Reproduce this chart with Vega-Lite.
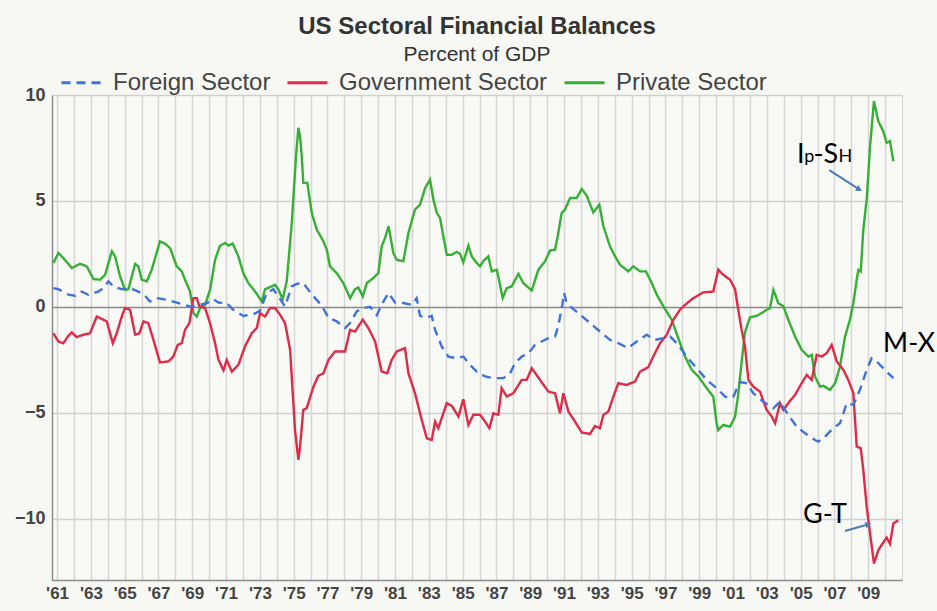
{
"$schema": "https://vega.github.io/schema/vega-lite/v6.json",
"width": 850,
"height": 485,
"autosize": {"type": "none"},
"padding": {"left": 52, "top": 95, "right": 35, "bottom": 31},
"background": "#f7f7f3",
"config": {"view": {"stroke": "#d4d4d4", "fill": "#f9f9f6"}},
"title": {"text": "US Sectoral Financial Balances", "subtitle": "Percent of GDP", "anchor": "middle", "font": "Liberation Sans", "fontSize": 24, "fontWeight": "bold", "color": "#333333", "subtitleFont": "Liberation Sans", "subtitleFontSize": 21, "subtitleColor": "#333333", "subtitlePadding": 5, "offset": -4},
"datasets": {
"series": [
{"sector":"Private Sector","year":1960.78,"pct":2.07},{"sector":"Private Sector","year":1961.08,"pct":2.54},{"sector":"Private Sector","year":1961.37,"pct":2.30},{"sector":"Private Sector","year":1961.87,"pct":1.83},{"sector":"Private Sector","year":1962.36,"pct":2.03},{"sector":"Private Sector","year":1962.76,"pct":1.91},{"sector":"Private Sector","year":1963.15,"pct":1.31},{"sector":"Private Sector","year":1963.54,"pct":1.28},{"sector":"Private Sector","year":1963.84,"pct":1.51},{"sector":"Private Sector","year":1964.24,"pct":2.62},{"sector":"Private Sector","year":1964.43,"pct":2.38},{"sector":"Private Sector","year":1964.73,"pct":1.43},{"sector":"Private Sector","year":1965.02,"pct":0.80},{"sector":"Private Sector","year":1965.22,"pct":0.83},{"sector":"Private Sector","year":1965.62,"pct":2.03},{"sector":"Private Sector","year":1965.81,"pct":1.91},{"sector":"Private Sector","year":1966.01,"pct":1.28},{"sector":"Private Sector","year":1966.31,"pct":1.20},{"sector":"Private Sector","year":1966.60,"pct":1.75},{"sector":"Private Sector","year":1967.09,"pct":3.09},{"sector":"Private Sector","year":1967.39,"pct":2.98},{"sector":"Private Sector","year":1967.69,"pct":2.77},{"sector":"Private Sector","year":1968.08,"pct":1.91},{"sector":"Private Sector","year":1968.38,"pct":1.67},{"sector":"Private Sector","year":1968.57,"pct":1.28},{"sector":"Private Sector","year":1968.87,"pct":0.72},{"sector":"Private Sector","year":1969.07,"pct":-0.30},{"sector":"Private Sector","year":1969.27,"pct":-0.46},{"sector":"Private Sector","year":1969.46,"pct":-0.06},{"sector":"Private Sector","year":1969.76,"pct":0.09},{"sector":"Private Sector","year":1970.05,"pct":0.80},{"sector":"Private Sector","year":1970.35,"pct":2.22},{"sector":"Private Sector","year":1970.64,"pct":2.88},{"sector":"Private Sector","year":1970.94,"pct":3.01},{"sector":"Private Sector","year":1971.14,"pct":2.89},{"sector":"Private Sector","year":1971.39,"pct":2.99},{"sector":"Private Sector","year":1971.73,"pct":2.38},{"sector":"Private Sector","year":1972.02,"pct":1.59},{"sector":"Private Sector","year":1972.32,"pct":1.12},{"sector":"Private Sector","year":1972.72,"pct":0.72},{"sector":"Private Sector","year":1973.11,"pct":0.25},{"sector":"Private Sector","year":1973.31,"pct":0.83},{"sector":"Private Sector","year":1973.60,"pct":0.93},{"sector":"Private Sector","year":1973.90,"pct":1.04},{"sector":"Private Sector","year":1974.09,"pct":0.83},{"sector":"Private Sector","year":1974.35,"pct":0.36},{"sector":"Private Sector","year":1974.59,"pct":1.20},{"sector":"Private Sector","year":1974.89,"pct":3.96},{"sector":"Private Sector","year":1975.14,"pct":7.11},{"sector":"Private Sector","year":1975.28,"pct":8.45},{"sector":"Private Sector","year":1975.38,"pct":8.05},{"sector":"Private Sector","year":1975.48,"pct":7.11},{"sector":"Private Sector","year":1975.57,"pct":5.85},{"sector":"Private Sector","year":1975.81,"pct":5.85},{"sector":"Private Sector","year":1976.07,"pct":4.43},{"sector":"Private Sector","year":1976.37,"pct":3.64},{"sector":"Private Sector","year":1976.76,"pct":3.09},{"sector":"Private Sector","year":1976.96,"pct":2.70},{"sector":"Private Sector","year":1977.15,"pct":1.91},{"sector":"Private Sector","year":1977.55,"pct":1.59},{"sector":"Private Sector","year":1977.94,"pct":1.12},{"sector":"Private Sector","year":1978.34,"pct":0.41},{"sector":"Private Sector","year":1978.63,"pct":0.83},{"sector":"Private Sector","year":1978.83,"pct":0.91},{"sector":"Private Sector","year":1979.09,"pct":0.49},{"sector":"Private Sector","year":1979.33,"pct":1.12},{"sector":"Private Sector","year":1979.72,"pct":1.36},{"sector":"Private Sector","year":1980.01,"pct":1.59},{"sector":"Private Sector","year":1980.21,"pct":2.85},{"sector":"Private Sector","year":1980.41,"pct":3.25},{"sector":"Private Sector","year":1980.62,"pct":3.80},{"sector":"Private Sector","year":1980.90,"pct":2.54},{"sector":"Private Sector","year":1981.10,"pct":2.22},{"sector":"Private Sector","year":1981.49,"pct":2.15},{"sector":"Private Sector","year":1981.79,"pct":3.48},{"sector":"Private Sector","year":1982.18,"pct":4.59},{"sector":"Private Sector","year":1982.48,"pct":4.82},{"sector":"Private Sector","year":1982.78,"pct":5.61},{"sector":"Private Sector","year":1983.07,"pct":6.00},{"sector":"Private Sector","year":1983.27,"pct":5.06},{"sector":"Private Sector","year":1983.47,"pct":4.43},{"sector":"Private Sector","year":1983.66,"pct":4.20},{"sector":"Private Sector","year":1983.86,"pct":3.32},{"sector":"Private Sector","year":1984.06,"pct":2.46},{"sector":"Private Sector","year":1984.36,"pct":2.46},{"sector":"Private Sector","year":1984.65,"pct":2.59},{"sector":"Private Sector","year":1984.85,"pct":2.50},{"sector":"Private Sector","year":1985.04,"pct":2.10},{"sector":"Private Sector","year":1985.34,"pct":2.89},{"sector":"Private Sector","year":1985.54,"pct":2.38},{"sector":"Private Sector","year":1985.83,"pct":2.07},{"sector":"Private Sector","year":1986.03,"pct":1.91},{"sector":"Private Sector","year":1986.22,"pct":2.15},{"sector":"Private Sector","year":1986.52,"pct":2.38},{"sector":"Private Sector","year":1986.72,"pct":1.67},{"sector":"Private Sector","year":1987.02,"pct":1.75},{"sector":"Private Sector","year":1987.17,"pct":1.20},{"sector":"Private Sector","year":1987.37,"pct":0.41},{"sector":"Private Sector","year":1987.61,"pct":0.88},{"sector":"Private Sector","year":1987.90,"pct":0.96},{"sector":"Private Sector","year":1988.30,"pct":1.56},{"sector":"Private Sector","year":1988.59,"pct":1.12},{"sector":"Private Sector","year":1989.09,"pct":0.77},{"sector":"Private Sector","year":1989.48,"pct":1.75},{"sector":"Private Sector","year":1989.88,"pct":2.15},{"sector":"Private Sector","year":1990.17,"pct":2.66},{"sector":"Private Sector","year":1990.47,"pct":2.70},{"sector":"Private Sector","year":1990.66,"pct":3.48},{"sector":"Private Sector","year":1990.86,"pct":4.43},{"sector":"Private Sector","year":1991.06,"pct":4.59},{"sector":"Private Sector","year":1991.36,"pct":5.14},{"sector":"Private Sector","year":1991.75,"pct":5.14},{"sector":"Private Sector","year":1992.05,"pct":5.56},{"sector":"Private Sector","year":1992.34,"pct":5.25},{"sector":"Private Sector","year":1992.73,"pct":4.46},{"sector":"Private Sector","year":1993.09,"pct":4.82},{"sector":"Private Sector","year":1993.33,"pct":3.80},{"sector":"Private Sector","year":1993.72,"pct":2.85},{"sector":"Private Sector","year":1994.02,"pct":2.38},{"sector":"Private Sector","year":1994.31,"pct":1.99},{"sector":"Private Sector","year":1994.80,"pct":1.67},{"sector":"Private Sector","year":1995.10,"pct":1.91},{"sector":"Private Sector","year":1995.50,"pct":1.67},{"sector":"Private Sector","year":1995.85,"pct":1.67},{"sector":"Private Sector","year":1996.19,"pct":1.12},{"sector":"Private Sector","year":1996.49,"pct":0.57},{"sector":"Private Sector","year":1996.88,"pct":0.02},{"sector":"Private Sector","year":1997.37,"pct":-0.61},{"sector":"Private Sector","year":1997.76,"pct":-1.48},{"sector":"Private Sector","year":1998.16,"pct":-2.35},{"sector":"Private Sector","year":1998.56,"pct":-2.98},{"sector":"Private Sector","year":1998.95,"pct":-3.29},{"sector":"Private Sector","year":1999.44,"pct":-3.84},{"sector":"Private Sector","year":1999.83,"pct":-4.24},{"sector":"Private Sector","year":2000.03,"pct":-5.50},{"sector":"Private Sector","year":2000.12,"pct":-5.82},{"sector":"Private Sector","year":2000.42,"pct":-5.58},{"sector":"Private Sector","year":2000.82,"pct":-5.66},{"sector":"Private Sector","year":2001.12,"pct":-5.19},{"sector":"Private Sector","year":2001.30,"pct":-4.20},{"sector":"Private Sector","year":2001.51,"pct":-2.60},{"sector":"Private Sector","year":2001.71,"pct":-1.20},{"sector":"Private Sector","year":2002.00,"pct":-0.50},{"sector":"Private Sector","year":2002.40,"pct":-0.43},{"sector":"Private Sector","year":2002.69,"pct":-0.30},{"sector":"Private Sector","year":2002.99,"pct":-0.14},{"sector":"Private Sector","year":2003.19,"pct":-0.06},{"sector":"Private Sector","year":2003.39,"pct":0.80},{"sector":"Private Sector","year":2003.68,"pct":0.17},{"sector":"Private Sector","year":2003.98,"pct":0.02},{"sector":"Private Sector","year":2004.27,"pct":-0.61},{"sector":"Private Sector","year":2004.67,"pct":-1.40},{"sector":"Private Sector","year":2005.06,"pct":-2.03},{"sector":"Private Sector","year":2005.46,"pct":-2.35},{"sector":"Private Sector","year":2005.66,"pct":-2.27},{"sector":"Private Sector","year":2005.85,"pct":-3.29},{"sector":"Private Sector","year":2006.15,"pct":-3.77},{"sector":"Private Sector","year":2006.34,"pct":-3.73},{"sector":"Private Sector","year":2006.74,"pct":-3.92},{"sector":"Private Sector","year":2007.04,"pct":-3.61},{"sector":"Private Sector","year":2007.33,"pct":-2.82},{"sector":"Private Sector","year":2007.63,"pct":-1.40},{"sector":"Private Sector","year":2007.92,"pct":-0.61},{"sector":"Private Sector","year":2008.12,"pct":0.17},{"sector":"Private Sector","year":2008.32,"pct":1.28},{"sector":"Private Sector","year":2008.42,"pct":1.75},{"sector":"Private Sector","year":2008.56,"pct":1.67},{"sector":"Private Sector","year":2008.71,"pct":3.64},{"sector":"Private Sector","year":2008.91,"pct":5.06},{"sector":"Private Sector","year":2009.11,"pct":7.58},{"sector":"Private Sector","year":2009.34,"pct":9.71},{"sector":"Private Sector","year":2009.60,"pct":8.76},{"sector":"Private Sector","year":2009.89,"pct":8.29},{"sector":"Private Sector","year":2010.09,"pct":7.74},{"sector":"Private Sector","year":2010.29,"pct":7.82},{"sector":"Private Sector","year":2010.49,"pct":6.87},
{"sector":"Government Sector","year":1960.78,"pct":-1.25},{"sector":"Government Sector","year":1961.08,"pct":-1.64},{"sector":"Government Sector","year":1961.37,"pct":-1.72},{"sector":"Government Sector","year":1961.67,"pct":-1.37},{"sector":"Government Sector","year":1961.87,"pct":-1.21},{"sector":"Government Sector","year":1962.16,"pct":-1.43},{"sector":"Government Sector","year":1962.56,"pct":-1.32},{"sector":"Government Sector","year":1962.95,"pct":-1.25},{"sector":"Government Sector","year":1963.35,"pct":-0.46},{"sector":"Government Sector","year":1963.64,"pct":-0.57},{"sector":"Government Sector","year":1963.94,"pct":-0.69},{"sector":"Government Sector","year":1964.30,"pct":-1.72},{"sector":"Government Sector","year":1964.53,"pct":-1.25},{"sector":"Government Sector","year":1964.83,"pct":-0.46},{"sector":"Government Sector","year":1965.02,"pct":-0.06},{"sector":"Government Sector","year":1965.32,"pct":-0.14},{"sector":"Government Sector","year":1965.62,"pct":-1.32},{"sector":"Government Sector","year":1965.87,"pct":-1.25},{"sector":"Government Sector","year":1966.11,"pct":-0.69},{"sector":"Government Sector","year":1966.40,"pct":-0.77},{"sector":"Government Sector","year":1966.70,"pct":-1.56},{"sector":"Government Sector","year":1966.90,"pct":-2.11},{"sector":"Government Sector","year":1967.09,"pct":-2.63},{"sector":"Government Sector","year":1967.59,"pct":-2.58},{"sector":"Government Sector","year":1967.88,"pct":-2.35},{"sector":"Government Sector","year":1968.14,"pct":-1.80},{"sector":"Government Sector","year":1968.38,"pct":-1.72},{"sector":"Government Sector","year":1968.57,"pct":-1.09},{"sector":"Government Sector","year":1968.83,"pct":-0.77},{"sector":"Government Sector","year":1969.07,"pct":0.41},{"sector":"Government Sector","year":1969.27,"pct":0.41},{"sector":"Government Sector","year":1969.42,"pct":0.02},{"sector":"Government Sector","year":1969.76,"pct":-0.06},{"sector":"Government Sector","year":1970.05,"pct":-0.77},{"sector":"Government Sector","year":1970.35,"pct":-1.72},{"sector":"Government Sector","year":1970.55,"pct":-2.50},{"sector":"Government Sector","year":1970.85,"pct":-3.00},{"sector":"Government Sector","year":1971.04,"pct":-2.51},{"sector":"Government Sector","year":1971.34,"pct":-3.06},{"sector":"Government Sector","year":1971.73,"pct":-2.74},{"sector":"Government Sector","year":1972.12,"pct":-1.87},{"sector":"Government Sector","year":1972.52,"pct":-1.25},{"sector":"Government Sector","year":1972.82,"pct":-1.00},{"sector":"Government Sector","year":1973.01,"pct":-0.30},{"sector":"Government Sector","year":1973.31,"pct":-0.46},{"sector":"Government Sector","year":1973.60,"pct":-0.06},{"sector":"Government Sector","year":1973.90,"pct":-0.06},{"sector":"Government Sector","year":1974.20,"pct":-0.38},{"sector":"Government Sector","year":1974.49,"pct":-0.77},{"sector":"Government Sector","year":1974.79,"pct":-2.03},{"sector":"Government Sector","year":1975.08,"pct":-5.82},{"sector":"Government Sector","year":1975.28,"pct":-7.23},{"sector":"Government Sector","year":1975.38,"pct":-6.60},{"sector":"Government Sector","year":1975.57,"pct":-4.87},{"sector":"Government Sector","year":1975.77,"pct":-4.79},{"sector":"Government Sector","year":1976.17,"pct":-3.77},{"sector":"Government Sector","year":1976.46,"pct":-3.26},{"sector":"Government Sector","year":1976.76,"pct":-3.14},{"sector":"Government Sector","year":1977.06,"pct":-2.51},{"sector":"Government Sector","year":1977.45,"pct":-2.11},{"sector":"Government Sector","year":1978.04,"pct":-2.11},{"sector":"Government Sector","year":1978.34,"pct":-1.09},{"sector":"Government Sector","year":1978.63,"pct":-1.17},{"sector":"Government Sector","year":1979.09,"pct":-0.61},{"sector":"Government Sector","year":1979.42,"pct":-1.00},{"sector":"Government Sector","year":1979.82,"pct":-1.64},{"sector":"Government Sector","year":1980.21,"pct":-3.06},{"sector":"Government Sector","year":1980.54,"pct":-3.14},{"sector":"Government Sector","year":1980.80,"pct":-2.51},{"sector":"Government Sector","year":1981.10,"pct":-2.11},{"sector":"Government Sector","year":1981.59,"pct":-1.95},{"sector":"Government Sector","year":1981.79,"pct":-3.14},{"sector":"Government Sector","year":1982.18,"pct":-4.08},{"sector":"Government Sector","year":1982.58,"pct":-5.34},{"sector":"Government Sector","year":1982.88,"pct":-6.21},{"sector":"Government Sector","year":1983.17,"pct":-6.29},{"sector":"Government Sector","year":1983.37,"pct":-5.42},{"sector":"Government Sector","year":1983.56,"pct":-5.73},{"sector":"Government Sector","year":1984.06,"pct":-4.55},{"sector":"Government Sector","year":1984.36,"pct":-4.68},{"sector":"Government Sector","year":1984.75,"pct":-5.18},{"sector":"Government Sector","year":1985.04,"pct":-4.37},{"sector":"Government Sector","year":1985.34,"pct":-5.58},{"sector":"Government Sector","year":1985.63,"pct":-5.10},{"sector":"Government Sector","year":1986.03,"pct":-5.10},{"sector":"Government Sector","year":1986.33,"pct":-5.42},{"sector":"Government Sector","year":1986.58,"pct":-5.73},{"sector":"Government Sector","year":1986.82,"pct":-5.03},{"sector":"Government Sector","year":1987.11,"pct":-5.10},{"sector":"Government Sector","year":1987.31,"pct":-3.84},{"sector":"Government Sector","year":1987.61,"pct":-4.24},{"sector":"Government Sector","year":1988.00,"pct":-4.08},{"sector":"Government Sector","year":1988.50,"pct":-3.45},{"sector":"Government Sector","year":1988.79,"pct":-3.45},{"sector":"Government Sector","year":1989.09,"pct":-2.90},{"sector":"Government Sector","year":1989.58,"pct":-3.45},{"sector":"Government Sector","year":1990.07,"pct":-4.00},{"sector":"Government Sector","year":1990.47,"pct":-4.08},{"sector":"Government Sector","year":1990.76,"pct":-5.03},{"sector":"Government Sector","year":1990.96,"pct":-4.08},{"sector":"Government Sector","year":1991.26,"pct":-4.95},{"sector":"Government Sector","year":1991.65,"pct":-5.42},{"sector":"Government Sector","year":1992.05,"pct":-5.94},{"sector":"Government Sector","year":1992.54,"pct":-6.00},{"sector":"Government Sector","year":1992.83,"pct":-5.63},{"sector":"Government Sector","year":1993.13,"pct":-5.73},{"sector":"Government Sector","year":1993.33,"pct":-5.10},{"sector":"Government Sector","year":1993.62,"pct":-4.95},{"sector":"Government Sector","year":1993.92,"pct":-4.24},{"sector":"Government Sector","year":1994.21,"pct":-3.61},{"sector":"Government Sector","year":1994.71,"pct":-3.69},{"sector":"Government Sector","year":1995.20,"pct":-3.53},{"sector":"Government Sector","year":1995.50,"pct":-3.06},{"sector":"Government Sector","year":1995.99,"pct":-2.85},{"sector":"Government Sector","year":1996.28,"pct":-2.35},{"sector":"Government Sector","year":1996.68,"pct":-1.72},{"sector":"Government Sector","year":1997.08,"pct":-1.32},{"sector":"Government Sector","year":1997.47,"pct":-0.61},{"sector":"Government Sector","year":1997.86,"pct":-0.14},{"sector":"Government Sector","year":1998.16,"pct":0.09},{"sector":"Government Sector","year":1998.65,"pct":0.41},{"sector":"Government Sector","year":1999.24,"pct":0.68},{"sector":"Government Sector","year":1999.83,"pct":0.72},{"sector":"Government Sector","year":2000.13,"pct":1.75},{"sector":"Government Sector","year":2000.42,"pct":1.51},{"sector":"Government Sector","year":2000.82,"pct":1.28},{"sector":"Government Sector","year":2001.12,"pct":0.83},{"sector":"Government Sector","year":2001.31,"pct":-0.14},{"sector":"Government Sector","year":2001.51,"pct":-1.09},{"sector":"Government Sector","year":2001.71,"pct":-1.87},{"sector":"Government Sector","year":2001.91,"pct":-3.45},{"sector":"Government Sector","year":2002.20,"pct":-3.77},{"sector":"Government Sector","year":2002.60,"pct":-4.01},{"sector":"Government Sector","year":2002.99,"pct":-4.87},{"sector":"Government Sector","year":2003.29,"pct":-5.18},{"sector":"Government Sector","year":2003.49,"pct":-5.50},{"sector":"Government Sector","year":2003.78,"pct":-4.55},{"sector":"Government Sector","year":2003.98,"pct":-4.87},{"sector":"Government Sector","year":2004.27,"pct":-4.55},{"sector":"Government Sector","year":2004.67,"pct":-4.16},{"sector":"Government Sector","year":2005.06,"pct":-3.61},{"sector":"Government Sector","year":2005.36,"pct":-3.22},{"sector":"Government Sector","year":2005.66,"pct":-3.45},{"sector":"Government Sector","year":2005.95,"pct":-2.27},{"sector":"Government Sector","year":2006.25,"pct":-2.35},{"sector":"Government Sector","year":2006.54,"pct":-2.19},{"sector":"Government Sector","year":2006.84,"pct":-1.80},{"sector":"Government Sector","year":2007.14,"pct":-2.58},{"sector":"Government Sector","year":2007.53,"pct":-2.98},{"sector":"Government Sector","year":2007.82,"pct":-3.45},{"sector":"Government Sector","year":2008.12,"pct":-4.08},{"sector":"Government Sector","year":2008.32,"pct":-6.60},{"sector":"Government Sector","year":2008.56,"pct":-6.68},{"sector":"Government Sector","year":2008.71,"pct":-7.71},{"sector":"Government Sector","year":2008.91,"pct":-9.44},{"sector":"Government Sector","year":2009.11,"pct":-10.70},{"sector":"Government Sector","year":2009.34,"pct":-12.12},{"sector":"Government Sector","year":2009.60,"pct":-11.49},{"sector":"Government Sector","year":2009.89,"pct":-11.13},{"sector":"Government Sector","year":2010.09,"pct":-10.90},{"sector":"Government Sector","year":2010.29,"pct":-11.19},{"sector":"Government Sector","year":2010.49,"pct":-10.23},{"sector":"Government Sector","year":2010.78,"pct":-10.08},
{"sector":"Foreign Sector","year":1960.78,"pct":0.88},{"sector":"Foreign Sector","year":1961.08,"pct":0.83},{"sector":"Foreign Sector","year":1961.67,"pct":0.57},{"sector":"Foreign Sector","year":1962.07,"pct":0.52},{"sector":"Foreign Sector","year":1962.46,"pct":0.72},{"sector":"Foreign Sector","year":1962.85,"pct":0.57},{"sector":"Foreign Sector","year":1963.44,"pct":0.72},{"sector":"Foreign Sector","year":1963.74,"pct":0.88},{"sector":"Foreign Sector","year":1964.04,"pct":1.20},{"sector":"Foreign Sector","year":1964.33,"pct":0.96},{"sector":"Foreign Sector","year":1964.83,"pct":0.83},{"sector":"Foreign Sector","year":1965.32,"pct":0.88},{"sector":"Foreign Sector","year":1965.81,"pct":0.72},{"sector":"Foreign Sector","year":1966.21,"pct":0.52},{"sector":"Foreign Sector","year":1966.50,"pct":0.25},{"sector":"Foreign Sector","year":1966.90,"pct":0.41},{"sector":"Foreign Sector","year":1967.49,"pct":0.33},{"sector":"Foreign Sector","year":1967.98,"pct":0.22},{"sector":"Foreign Sector","year":1968.47,"pct":0.10},{"sector":"Foreign Sector","year":1968.97,"pct":0.00},{"sector":"Foreign Sector","year":1969.46,"pct":0.09},{"sector":"Foreign Sector","year":1969.86,"pct":0.17},{"sector":"Foreign Sector","year":1970.25,"pct":0.36},{"sector":"Foreign Sector","year":1970.55,"pct":0.20},{"sector":"Foreign Sector","year":1971.04,"pct":0.17},{"sector":"Foreign Sector","year":1971.43,"pct":-0.14},{"sector":"Foreign Sector","year":1972.02,"pct":-0.43},{"sector":"Foreign Sector","year":1972.62,"pct":-0.35},{"sector":"Foreign Sector","year":1973.01,"pct":-0.19},{"sector":"Foreign Sector","year":1973.41,"pct":0.65},{"sector":"Foreign Sector","year":1973.80,"pct":0.83},{"sector":"Foreign Sector","year":1974.09,"pct":0.49},{"sector":"Foreign Sector","year":1974.49,"pct":0.02},{"sector":"Foreign Sector","year":1974.89,"pct":0.96},{"sector":"Foreign Sector","year":1975.18,"pct":1.08},{"sector":"Foreign Sector","year":1975.57,"pct":1.12},{"sector":"Foreign Sector","year":1975.87,"pct":0.80},{"sector":"Foreign Sector","year":1976.27,"pct":0.41},{"sector":"Foreign Sector","year":1976.66,"pct":0.06},{"sector":"Foreign Sector","year":1977.06,"pct":-0.52},{"sector":"Foreign Sector","year":1977.55,"pct":-0.69},{"sector":"Foreign Sector","year":1978.04,"pct":-1.01},{"sector":"Foreign Sector","year":1978.34,"pct":-0.77},{"sector":"Foreign Sector","year":1978.73,"pct":-0.22},{"sector":"Foreign Sector","year":1979.12,"pct":-0.06},{"sector":"Foreign Sector","year":1979.52,"pct":0.00},{"sector":"Foreign Sector","year":1979.92,"pct":-0.40},{"sector":"Foreign Sector","year":1980.21,"pct":0.10},{"sector":"Foreign Sector","year":1980.61,"pct":0.65},{"sector":"Foreign Sector","year":1981.00,"pct":0.20},{"sector":"Foreign Sector","year":1981.49,"pct":0.18},{"sector":"Foreign Sector","year":1981.99,"pct":0.09},{"sector":"Foreign Sector","year":1982.28,"pct":0.41},{"sector":"Foreign Sector","year":1982.48,"pct":-0.43},{"sector":"Foreign Sector","year":1982.88,"pct":-0.51},{"sector":"Foreign Sector","year":1983.17,"pct":-0.43},{"sector":"Foreign Sector","year":1983.37,"pct":-1.09},{"sector":"Foreign Sector","year":1983.76,"pct":-1.87},{"sector":"Foreign Sector","year":1984.16,"pct":-2.35},{"sector":"Foreign Sector","year":1984.65,"pct":-2.43},{"sector":"Foreign Sector","year":1985.04,"pct":-2.35},{"sector":"Foreign Sector","year":1985.44,"pct":-2.74},{"sector":"Foreign Sector","year":1985.83,"pct":-3.06},{"sector":"Foreign Sector","year":1986.33,"pct":-3.29},{"sector":"Foreign Sector","year":1986.82,"pct":-3.37},{"sector":"Foreign Sector","year":1987.41,"pct":-3.37},{"sector":"Foreign Sector","year":1987.81,"pct":-3.14},{"sector":"Foreign Sector","year":1988.10,"pct":-2.66},{"sector":"Foreign Sector","year":1988.50,"pct":-2.35},{"sector":"Foreign Sector","year":1988.89,"pct":-2.19},{"sector":"Foreign Sector","year":1989.28,"pct":-1.80},{"sector":"Foreign Sector","year":1989.68,"pct":-1.64},{"sector":"Foreign Sector","year":1990.07,"pct":-1.48},{"sector":"Foreign Sector","year":1990.47,"pct":-1.40},{"sector":"Foreign Sector","year":1990.66,"pct":-0.90},{"sector":"Foreign Sector","year":1990.90,"pct":0.10},{"sector":"Foreign Sector","year":1991.00,"pct":0.65},{"sector":"Foreign Sector","year":1991.15,"pct":0.20},{"sector":"Foreign Sector","year":1991.36,"pct":0.02},{"sector":"Foreign Sector","year":1991.95,"pct":-0.37},{"sector":"Foreign Sector","year":1992.54,"pct":-0.77},{"sector":"Foreign Sector","year":1993.13,"pct":-1.17},{"sector":"Foreign Sector","year":1993.72,"pct":-1.56},{"sector":"Foreign Sector","year":1994.21,"pct":-1.72},{"sector":"Foreign Sector","year":1994.80,"pct":-1.95},{"sector":"Foreign Sector","year":1995.30,"pct":-1.64},{"sector":"Foreign Sector","year":1995.89,"pct":-1.32},{"sector":"Foreign Sector","year":1996.38,"pct":-1.56},{"sector":"Foreign Sector","year":1996.88,"pct":-1.48},{"sector":"Foreign Sector","year":1997.27,"pct":-1.40},{"sector":"Foreign Sector","year":1997.67,"pct":-1.72},{"sector":"Foreign Sector","year":1998.26,"pct":-2.35},{"sector":"Foreign Sector","year":1998.85,"pct":-2.90},{"sector":"Foreign Sector","year":1999.44,"pct":-3.45},{"sector":"Foreign Sector","year":2000.03,"pct":-3.84},{"sector":"Foreign Sector","year":2000.53,"pct":-4.24},{"sector":"Foreign Sector","year":2000.82,"pct":-4.32},{"sector":"Foreign Sector","year":2001.02,"pct":-4.24},{"sector":"Foreign Sector","year":2001.41,"pct":-3.55},{"sector":"Foreign Sector","year":2001.81,"pct":-3.61},{"sector":"Foreign Sector","year":2002.20,"pct":-4.08},{"sector":"Foreign Sector","year":2002.79,"pct":-4.48},{"sector":"Foreign Sector","year":2003.39,"pct":-4.79},{"sector":"Foreign Sector","year":2003.78,"pct":-4.48},{"sector":"Foreign Sector","year":2004.27,"pct":-5.11},{"sector":"Foreign Sector","year":2004.77,"pct":-5.66},{"sector":"Foreign Sector","year":2005.26,"pct":-5.97},{"sector":"Foreign Sector","year":2005.85,"pct":-6.29},{"sector":"Foreign Sector","year":2006.05,"pct":-6.37},{"sector":"Foreign Sector","year":2006.44,"pct":-6.13},{"sector":"Foreign Sector","year":2006.93,"pct":-5.73},{"sector":"Foreign Sector","year":2007.33,"pct":-5.50},{"sector":"Foreign Sector","year":2007.73,"pct":-4.55},{"sector":"Foreign Sector","year":2008.12,"pct":-4.63},{"sector":"Foreign Sector","year":2008.51,"pct":-3.92},{"sector":"Foreign Sector","year":2008.91,"pct":-2.98},{"sector":"Foreign Sector","year":2009.20,"pct":-2.43},{"sector":"Foreign Sector","year":2009.50,"pct":-2.58},{"sector":"Foreign Sector","year":2009.89,"pct":-2.90},{"sector":"Foreign Sector","year":2010.19,"pct":-3.14},{"sector":"Foreign Sector","year":2010.49,"pct":-3.37}
],
"bigText": [
{"label":"I","year":2004.79,"pct":6.78},
{"label":"-","year":2005.76,"pct":6.78},
{"label":"S","year":2006.36,"pct":6.78},
{"label":"M-X","year":2009.88,"pct":-2.14},
{"label":"G-T","year":2005.14,"pct":-10.22}
],
"subText": [
{"label":"p","year":2005.22,"pct":6.85},
{"label":"H","year":2007.24,"pct":6.83}
],
"arrows": [
{"year":2006.70,"pct":6.45,"year2":2008.47,"pct2":5.54},
{"year":2007.63,"pct":-10.59,"year2":2009.01,"pct2":-10.27}
]
},
"encoding": {
"x": {"field": "year", "type": "quantitative", "scale": {"domain": [1960.7, 2011.0], "nice": false, "zero": false},
"axis": {"title": null, "values": [1961,1962,1963,1964,1965,1966,1967,1968,1969,1970,1971,1972,1973,1974,1975,1976,1977,1978,1979,1980,1981,1982,1983,1984,1985,1986,1987,1988,1989,1990,1991,1992,1993,1994,1995,1996,1997,1998,1999,2000,2001,2002,2003,2004,2005,2006,2007,2008,2009,2010], "tickCount": 100,
"labelExpr": "datum.value % 2 == 1 ? \"'\" + slice(toString(datum.value), 2) : ''",
"labelDx": 8.45, "labelFlush": false, "labelOverlap": false, "labelFont": "Liberation Sans", "labelFontSize": 17, "labelFontWeight": "bold", "labelColor": "#444444", "labelPadding": 5,
"ticks": false, "domainColor": "#8c8c8c", "domainWidth": 1.5, "grid": true, "gridColor": "#d6d6d6", "gridWidth": 1.5}},
"y": {"field": "pct", "type": "quantitative", "scale": {"domain": [-12.9, 10], "nice": false, "zero": false},
"axis": {"title": null, "values": [-10, -5, 0, 5, 10], "labelFont": "Liberation Sans", "labelFontSize": 18, "labelFontWeight": "bold", "labelColor": "#444444", "labelPadding": 7, "ticks": false, "domainColor": "#8c8c8c", "domainWidth": 1.5, "grid": true, "gridColor": {"condition": {"test": "datum.value === 0", "value": "#8a8a8a"}, "value": "#d0d0d0"}, "gridWidth": 1.3}}
},
"layer": [
{
"data": {"name": "series"},
"mark": {"type": "line", "strokeWidth": 2.4, "clip": true},
"encoding": {
"color": {"field": "sector", "type": "nominal", "scale": {"domain": ["Foreign Sector", "Government Sector", "Private Sector"], "range": ["#3f73d9", "#df2a48", "#35b035"]},
"legend": {"title": null, "orient": "none", "legendX": 8, "legendY": -34, "direction": "horizontal", "symbolType": "stroke", "symbolSize": 1600, "symbolStrokeWidth": 3, "labelFont": "Liberation Sans", "labelFontSize": 24, "labelColor": "#444444", "labelOffset": 10, "labelLimit": 400, "columnPadding": 10, "padding": 0}},
"strokeDash": {"field": "sector", "type": "nominal", "scale": {"domain": ["Foreign Sector", "Government Sector", "Private Sector"], "range": [[9, 6], [1, 0], [1, 0]]},
"legend": {"title": null, "orient": "none", "legendX": 8, "legendY": -34, "direction": "horizontal", "symbolType": "stroke", "symbolSize": 1600, "symbolStrokeWidth": 3, "labelFont": "Liberation Sans", "labelFontSize": 24, "labelColor": "#444444", "labelOffset": 10, "labelLimit": 400, "columnPadding": 10, "padding": 0}}
}
},
{
"data": {"name": "arrows"},
"mark": {"type": "rule", "color": "#4a7ebb", "strokeWidth": 2},
"encoding": {"x2": {"field": "year2"}, "y2": {"field": "pct2"}}
},
{
"data": {"values": [{"year": 2008.47, "pct": 5.54}]},
"mark": {"type": "point", "shape": "triangle-right", "filled": true, "color": "#4a7ebb", "size": 45, "angle": 33, "opacity": 1},
"encoding": {}
},
{
"data": {"values": [{"year": 2009.01, "pct": -10.27}]},
"mark": {"type": "point", "shape": "triangle-right", "filled": true, "color": "#4a7ebb", "size": 45, "angle": -16, "opacity": 1},
"encoding": {}
},
{
"data": {"name": "bigText"},
"mark": {"type": "text", "align": "left", "baseline": "alphabetic", "font": "Lato", "fontSize": 27, "color": "#000000"},
"encoding": {"text": {"field": "label"}}
},
{
"data": {"name": "subText"},
"mark": {"type": "text", "align": "left", "baseline": "alphabetic", "font": "Lato", "fontSize": 18, "color": "#000000"},
"encoding": {"text": {"field": "label"}}
}
]
}
